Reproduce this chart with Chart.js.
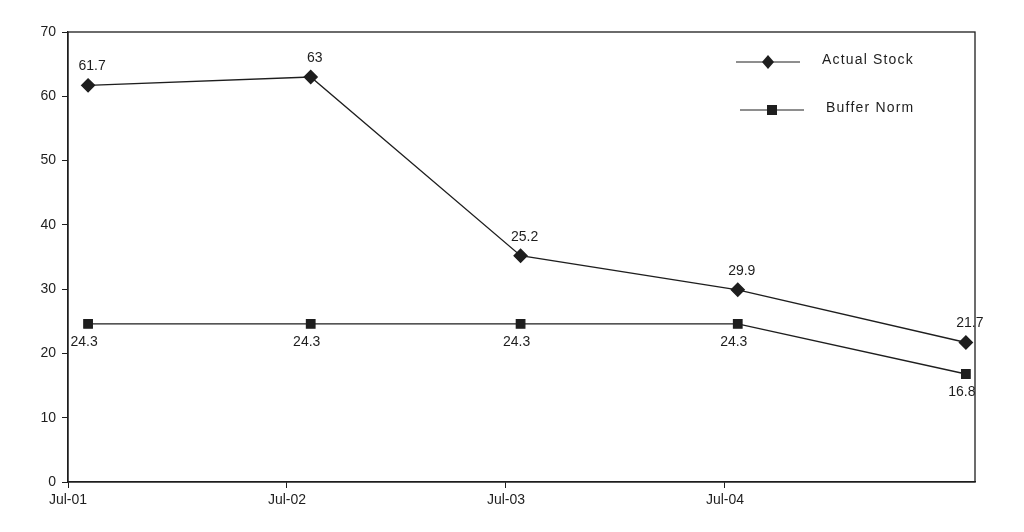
<!DOCTYPE html>
<html>
<head>
<meta charset="utf-8">
<script src="https://cdn.jsdelivr.net/npm/chart.js@4/dist/chart.umd.min.js"></script>
<style>
  html, body { margin: 0; padding: 0; background: #fff; }
  #wrap { width: 1024px; height: 532px; }
</style>
</head>
<body>
<div id="wrap"><canvas id="chart" width="1024" height="532"></canvas></div>
<script>
// months counted from Jul-01
var tickMonths = [0, 12, 24, 36];
var tickLabels = ['Jul-01', 'Jul-02', 'Jul-03', 'Jul-04'];
var pointMonths = [1.1, 13.3, 24.8, 36.7, 49.2];

var actualStock = [61.7, 63, 35.2, 29.9, 21.7];
var actualLabels = ['61.7', '63', '25.2', '29.9', '21.7'];
var bufferNorm = [24.6, 24.6, 24.6, 24.6, 16.8];
var bufferLabels = ['24.3', '24.3', '24.3', '24.3', '16.8'];

var ink = '#1e1e1e';
var font = '"Liberation Sans", Arial, sans-serif';

function toPoints(ys) {
  return ys.map(function (y, i) { return { x: pointMonths[i], y: y }; });
}

var extras = {
  id: 'extras',
  afterDraw: function (chart) {
    var ctx = chart.ctx;
    var a = chart.chartArea;
    ctx.save();
    // frame
    ctx.strokeStyle = ink;
    ctx.lineWidth = 1.3;
    ctx.strokeRect(a.left, a.top, a.right - a.left, a.bottom - a.top);

    // value labels
    ctx.fillStyle = ink;
    ctx.font = '14px ' + font;
    ctx.textAlign = 'center';
    ctx.textBaseline = 'middle';
    chart.getDatasetMeta(0).data.forEach(function (p, i) {
      ctx.fillText(actualLabels[i], p.x + 4, p.y - 19);
    });
    chart.getDatasetMeta(1).data.forEach(function (p, i) {
      ctx.fillText(bufferLabels[i], p.x - 4, p.y + 18);
    });

    // legend
    var items = [
      { text: 'Actual Stock', shape: 'diamond', x0: a.left + 668, y: a.top + 30 },
      { text: 'Buffer Norm', shape: 'square', x0: a.left + 672, y: a.top + 78 }
    ];
    items.forEach(function (it) {
      ctx.strokeStyle = ink;
      ctx.lineWidth = 1;
      ctx.beginPath();
      ctx.moveTo(it.x0, it.y);
      ctx.lineTo(it.x0 + 64, it.y);
      ctx.stroke();
      var cx = it.x0 + 32;
      ctx.fillStyle = ink;
      ctx.beginPath();
      if (it.shape === 'diamond') {
        ctx.moveTo(cx, it.y - 7);
        ctx.lineTo(cx + 6, it.y);
        ctx.lineTo(cx, it.y + 7);
        ctx.lineTo(cx - 6, it.y);
        ctx.closePath();
      } else {
        ctx.rect(cx - 5, it.y - 5, 10, 10);
      }
      ctx.fill();
      ctx.textAlign = 'left';
      ctx.font = '14px ' + font;
      ctx.fillText(it.text.split('').join(String.fromCharCode(8202)), it.x0 + 86, it.y - 2);
    });
    ctx.restore();
  }
};

new Chart(document.getElementById('chart'), {
  type: 'line',
  data: {
    datasets: [
      {
        label: 'Actual Stock',
        data: toPoints(actualStock),
        borderColor: ink,
        backgroundColor: ink,
        borderWidth: 1.3,
        pointStyle: 'rectRot',
        pointRadius: 6.5,
        tension: 0
      },
      {
        label: 'Buffer Norm',
        data: toPoints(bufferNorm),
        borderColor: ink,
        backgroundColor: ink,
        borderWidth: 1.3,
        pointStyle: 'rect',
        pointRadius: 6,
        tension: 0
      }
    ]
  },
  options: {
    responsive: false,
    animation: false,
    layout: { padding: { left: 0, right: 49, top: 32, bottom: 0 } },
    plugins: { legend: { display: false }, tooltip: { enabled: false } },
    scales: {
      x: {
        type: 'linear',
        min: 0,
        max: 49.7,
        afterBuildTicks: function (scale) {
          scale.ticks = tickMonths.map(function (m) { return { value: m }; });
        },
        afterFit: function (scale) { scale.height = 50; },
        ticks: {
          color: ink,
          font: { family: font, size: 14 },
          padding: 4,
          maxRotation: 0,
          autoSkip: false,
          callback: function (v) {
            var i = tickMonths.indexOf(v);
            return i >= 0 ? tickLabels[i] : '';
          }
        },
        grid: { drawOnChartArea: false, tickLength: 6, color: ink },
        border: { color: ink, width: 1.3 }
      },
      y: {
        min: 0,
        max: 70,
        afterFit: function (scale) { scale.width = 68; },
        ticks: {
          stepSize: 10,
          color: ink,
          font: { family: font, size: 14 },
          padding: 6
        },
        grid: { drawOnChartArea: false, tickLength: 6, color: ink },
        border: { color: ink, width: 1.3 }
      }
    }
  },
  plugins: [extras]
});
</script>
</body>
</html>
